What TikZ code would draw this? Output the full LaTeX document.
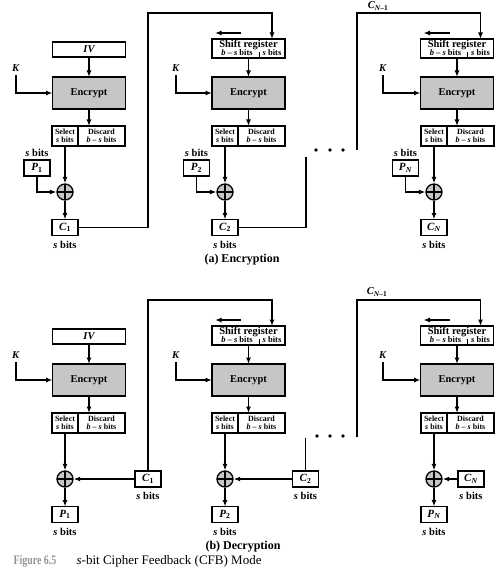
\documentclass[tikz,border=0pt]{standalone}
\usepackage{fontspec}
\setmainfont{Liberation Serif}
\usepackage{xcolor}
\newcommand{\sbits}{\textit{s} bits}
\newcommand{\bsbits}{\textit{b} -- \textit{s} bits}
\newcommand{\blk}[2]{\textit{#1}\textsubscript{#2}}
\usepackage{tikz}
\usetikzlibrary{arrows}
\usetikzlibrary{arrows.meta}
\usetikzlibrary{calc}
\usetikzlibrary{positioning}

\begin{document}
\begin{tikzpicture}[x=1pt, y=-1pt, >={Latex[length=6.5pt,width=5pt]}, line width=1.3pt, font=\bfseries,
    box/.style={draw, line width=1.6pt, inner sep=0pt, outer sep=0pt, minimum width=73pt},
    encbox/.style={box, fill=gray!45, minimum height=32pt, font=\bfseries\fontsize{10.5}{12}\selectfont},
    ivbox/.style={box, minimum height=15pt, font=\bfseries\itshape\fontsize{10.5}{12}\selectfont},
    srbox/.style={box, minimum height=19pt},
    srtxt/.style={inner sep=0pt, font=\bfseries\fontsize{10.5}{12}\selectfont},
    srsmall/.style={inner sep=0pt, font=\bfseries\fontsize{8.5}{9}\selectfont},
    selbox/.style={box, minimum width=26pt, minimum height=20pt, align=center, font=\bfseries\fontsize{8}{8.5}\selectfont},
    discbox/.style={selbox, minimum width=47pt},
    blkbox/.style={box, minimum width=26pt, minimum height=16pt, font=\bfseries\fontsize{11}{12}\selectfont},
    lbl/.style={inner sep=0pt, font=\bfseries\fontsize{10.5}{12}\selectfont},
    keylbl/.style={lbl, inner sep=3pt},
    xor/.style={circle, draw, fill=gray!45, minimum size=16pt, inner sep=0pt, line width=1.3pt,
      path picture={\draw[line width=1.1pt] (path picture bounding box.north) -- (path picture bounding box.south)
        (path picture bounding box.west) -- (path picture bounding box.east);}}]

  \useasboundingbox (0,0) rectangle (500,580);

  % (a) Encryption, first block
  \node[ivbox] (iv1) at (89,49.5) {IV};
  \node[encbox] (enc1) at (89,93) {Encrypt};
  \node[selbox] (sel1) at (65,136) {Select\\\sbits};
  \node[discbox, right=0pt of sel1] (disc1) {Discard\\\bsbits};
  \node[xor] (xor1) at (65,192) {};
  \node[blkbox] (p1) at (37,168) {\blk{P}{1}};
  \node[lbl, above=3pt of p1] (p1s) {\sbits};
  \node[blkbox] (c1) at (65,227.5) {\blk{C}{1}};
  \node[lbl, below=5pt of c1] (c1s) {\sbits};
  \node[keylbl] (k1) at (16,68) {\textit{K}};

  \draw[->] (iv1) -- (enc1);
  \draw[->] (enc1.south) -- (enc1.south |- disc1.north);
  \draw[->] (k1) |- (enc1);
  \draw[->] (sel1) -- (xor1);
  \draw[->] (p1) |- (xor1);
  \draw[->] (xor1) -- (c1);

  % second block
  \node[srbox] (sr2) at (248.5,48.5) {};
  \node[srtxt] (sr2a) at ($(sr2.north)+(0,6)$) {Shift register};
  \node[srsmall] (sr2b) at ($(sr2.south west)+(25,-5)$) {\bsbits};
  \node[srsmall] (sr2c) at ($(sr2.south east)+(-13,-5)$) {\sbits};
  \draw[line width=0.6pt] ($(sr2.south west)+(47,0)$) -- ++(0,-6);
  \draw[->] ($(sr2.north west)+(29,-6)$) -- ++(-26,0);
  \coordinate (sr2in) at ($(sr2.north east)+(-13,0)$);
  \node[encbox] (enc2) at (248.5,93) {Encrypt};
  \node[selbox] (sel2) at (225,136) {Select\\\sbits};
  \node[discbox, right=0pt of sel2] (disc2) {Discard\\\bsbits};
  \node[xor] (xor2) at (225,192) {};
  \node[blkbox] (p2) at (196.5,168) {\blk{P}{2}};
  \node[lbl, above=3pt of p2] (p2s) {\sbits};
  \node[blkbox] (c2) at (225,227.5) {\blk{C}{2}};
  \node[lbl, below=5pt of c2] (c2s) {\sbits};
  \node[keylbl] (k2) at (176,68) {\textit{K}};

  \draw[->] (sr2) -- (enc2);
  \draw[->] (enc2.south) -- (enc2.south |- disc2.north);
  \draw[->] (k2) |- (enc2);
  \draw[->] (sel2) -- (xor2);
  \draw[->] (p2) |- (xor2);
  \draw[->] (xor2) -- (c2);

  \coordinate (fb1) at (148,13);
  \draw[->] (c1) -| (fb1) -| (sr2in);

  % last block
  \node[srbox] (sr3) at (457,48.5) {};
  \node[srtxt] (sr3a) at ($(sr3.north)+(0,6)$) {Shift register};
  \node[srsmall] (sr3b) at ($(sr3.south west)+(25,-5)$) {\bsbits};
  \node[srsmall] (sr3c) at ($(sr3.south east)+(-13,-5)$) {\sbits};
  \draw[line width=0.6pt] ($(sr3.south west)+(47,0)$) -- ++(0,-6);
  \draw[->] ($(sr3.north west)+(29,-6)$) -- ++(-26,0);
  \coordinate (sr3in) at ($(sr3.north east)+(-13,0)$);
  \node[encbox] (enc3) at (457,93) {Encrypt};
  \node[selbox] (sel3) at (434,136) {Select\\\sbits};
  \node[discbox, right=0pt of sel3] (disc3) {Discard\\\bsbits};
  \node[xor] (xor3) at (434,192) {};
  \node[blkbox] (p3) at (405.5,168) {\blk{P}{\textit{N}}};
  \node[lbl, above=3pt of p3] (p3s) {\sbits};
  \node[blkbox] (c3) at (434,227.5) {\blk{C}{\textit{N}}};
  \node[lbl, below=5pt of c3] (c3s) {\sbits};
  \node[keylbl] (k3) at (383,68) {\textit{K}};

  \draw[->] (sr3) -- (enc3);
  \draw[->] (enc3.south) -- (enc3.south |- disc3.north);
  \draw[->] (k3) |- (enc3);
  \draw[->] (sel3) -- (xor3);
  \draw[->] (p3) |- (xor3);
  \draw[->] (xor3) -- (c3);

  \coordinate (fb2) at (306,157);
  \draw (c2) -| (fb2);
  \fill (316,150) circle (1.9) (330,150) circle (1.9) (343,150) circle (1.9);
  \coordinate (fb3) at (357,150);
  \coordinate (fb3b) at (357,13);
  \draw[->] (fb3) -- (fb3b) -| (sr3in);
  \node[lbl] (cn1) at (378,6) {\blk{C}{\textit{N}--1}};

  \node[lbl, font=\bfseries\fontsize{12}{14}\selectfont] (enclbl) at (242,260) {(a) Encryption};

  % (b) Decryption, first block
  \node[ivbox] (iv4) at (89,336.5) {IV};
  \node[encbox] (enc4) at (89,380) {Encrypt};
  \node[selbox] (sel4) at (65,423) {Select\\\sbits};
  \node[discbox, right=0pt of sel4] (disc4) {Discard\\\bsbits};
  \node[xor] (xor4) at (65,479) {};
  \node[blkbox] (c4) at (148,479) {\blk{C}{1}};
  \node[lbl, below=5pt of c4] (c4s) {\sbits};
  \node[blkbox] (p4) at (65,514.5) {\blk{P}{1}};
  \node[lbl, below=5pt of p4] (p4s) {\sbits};
  \node[keylbl] (k4) at (16,355) {\textit{K}};

  \draw[->] (iv4) -- (enc4);
  \draw[->] (enc4.south) -- (enc4.south |- disc4.north);
  \draw[->] (k4) |- (enc4);
  \draw[->] (sel4) -- (xor4);
  \draw[->] (c4) -- (xor4);
  \draw[->] (xor4) -- (p4);

  % second block
  \node[srbox] (sr5) at (248.5,335.5) {};
  \node[srtxt] (sr5a) at ($(sr5.north)+(0,6)$) {Shift register};
  \node[srsmall] (sr5b) at ($(sr5.south west)+(25,-5)$) {\bsbits};
  \node[srsmall] (sr5c) at ($(sr5.south east)+(-13,-5)$) {\sbits};
  \draw[line width=0.6pt] ($(sr5.south west)+(47,0)$) -- ++(0,-6);
  \draw[->] ($(sr5.north west)+(29,-6)$) -- ++(-26,0);
  \coordinate (sr5in) at ($(sr5.north east)+(-13,0)$);
  \node[encbox] (enc5) at (248.5,380) {Encrypt};
  \node[selbox] (sel5) at (225,423) {Select\\\sbits};
  \node[discbox, right=0pt of sel5] (disc5) {Discard\\\bsbits};
  \node[xor] (xor5) at (225,479) {};
  \node[blkbox] (c5) at (305.5,479) {\blk{C}{2}};
  \node[lbl, below=5pt of c5] (c5s) {\sbits};
  \node[blkbox] (p5) at (225,514.5) {\blk{P}{2}};
  \node[lbl, below=5pt of p5] (p5s) {\sbits};
  \node[keylbl] (k5) at (176,355) {\textit{K}};

  \draw[->] (sr5) -- (enc5);
  \draw[->] (enc5.south) -- (enc5.south |- disc5.north);
  \draw[->] (k5) |- (enc5);
  \draw[->] (sel5) -- (xor5);
  \draw[->] (c5) -- (xor5);
  \draw[->] (xor5) -- (p5);

  \coordinate (fb4) at (148,300);
  \draw[->] (c4) -- (fb4) -| (sr5in);

  % last block
  \node[srbox] (sr6) at (457,335.5) {};
  \node[srtxt] (sr6a) at ($(sr6.north)+(0,6)$) {Shift register};
  \node[srsmall] (sr6b) at ($(sr6.south west)+(25,-5)$) {\bsbits};
  \node[srsmall] (sr6c) at ($(sr6.south east)+(-13,-5)$) {\sbits};
  \draw[line width=0.6pt] ($(sr6.south west)+(47,0)$) -- ++(0,-6);
  \draw[->] ($(sr6.north west)+(29,-6)$) -- ++(-26,0);
  \coordinate (sr6in) at ($(sr6.north east)+(-13,0)$);
  \node[encbox] (enc6) at (457,380) {Encrypt};
  \node[selbox] (sel6) at (434,423) {Select\\\sbits};
  \node[discbox, right=0pt of sel6] (disc6) {Discard\\\bsbits};
  \node[xor] (xor6) at (434,479) {};
  \node[blkbox] (c6) at (471,479) {\blk{C}{\textit{N}}};
  \node[lbl, below=5pt of c6] (c6s) {\sbits};
  \node[blkbox] (p6) at (434,514.5) {\blk{P}{\textit{N}}};
  \node[lbl, below=5pt of p6] (p6s) {\sbits};
  \node[keylbl] (k6) at (383,355) {\textit{K}};

  \draw[->] (sr6) -- (enc6);
  \draw[->] (enc6.south) -- (enc6.south |- disc6.north);
  \draw[->] (k6) |- (enc6);
  \draw[->] (sel6) -- (xor6);
  \draw[->] (c6) -- (xor6);
  \draw[->] (xor6) -- (p6);

  \coordinate (fb5) at (305.5,438);
  \draw (c5) -- (fb5);
  \fill (317,436) circle (1.9) (330,436) circle (1.9) (343,436) circle (1.9);
  \coordinate (fb6) at (357,437);
  \coordinate (fb6b) at (357,300);
  \draw[->] (fb6) -- (fb6b) -| (sr6in);
  \node[lbl] (cn2) at (377,292) {\blk{C}{\textit{N}--1}};

  \node[lbl, font=\bfseries\fontsize{12}{14}\selectfont] (declbl) at (243,547) {(b) Decryption};

  % caption
  \node[lbl, anchor=west, text=gray!85, font=\bfseries\fontsize{13}{15}\selectfont] (fig) at (13,561) {\scalebox{0.76}[1]{Figure 6.5}};
  \node[lbl, anchor=west, font=\mdseries\fontsize{13}{15}\selectfont] (cap) at (76,561) {\textit{s}-bit Cipher Feedback (CFB) Mode};

\end{tikzpicture}
\end{document}
